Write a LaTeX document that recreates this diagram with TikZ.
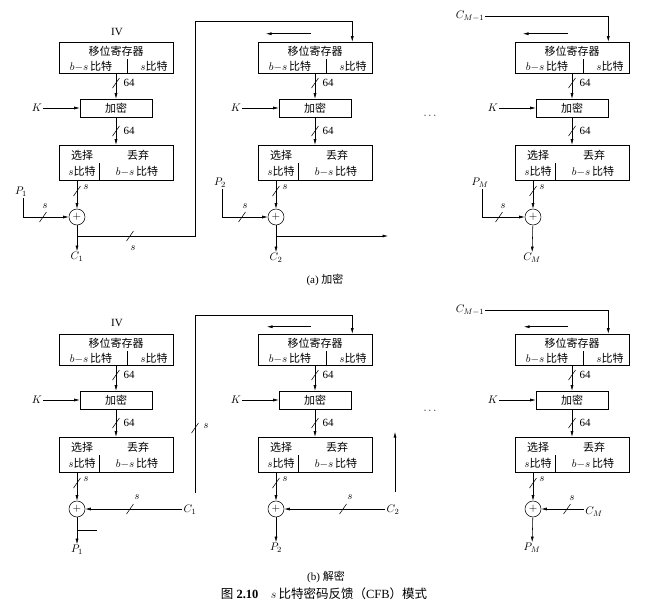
\documentclass[tikz,border=0pt]{standalone}
\usepackage{fontspec}
\setmainfont{Liberation Serif}
\newfontfamily\cjk{Noto Sans CJK SC}
\usetikzlibrary{arrows.meta,calc}
\newcommand\zh[1]{{\cjk #1}}
\newcommand\bitcut[1]{\draw (#1) ++(-3.5,5) -- ++(7,-10);}
\tikzset{
  box/.style={draw, inner sep=0pt},
  arr/.style={-{Latex[length=5.5pt,width=3pt]}},
  xorc/.style={draw, circle, minimum size=16pt, inner sep=0pt},
  lbl/.style={inner sep=1pt}
}
\begin{document}
\begin{tikzpicture}[x=1pt, y=-1pt, line width=0.55pt, font=\fontsize{11}{13}\selectfont]
\useasboundingbox (0,0) rectangle (660,611);
% the six stages
\foreach \n/\x/\y in {1/59/0, 2/258/0, 3/515/0, 4/59/292, 5/258/292, 6/515/292} {
  \node[box, minimum width=114pt, minimum height=31pt] (r\n) at (\x+57,57.5+\y) {};
  \node at (\x+57,51+\y) {\zh{移位寄存器}};
  \node at (\x+32,66+\y) {$b{-}s\,$\zh{比特}};
  \node at (\x+95,66+\y) {$s$\zh{比特}};
  \draw (\x+68,59+\y) -- (\x+68,73+\y);
  \node[box, minimum width=72pt, minimum height=18pt] (e\n) at (\x+57,108+\y) {\zh{加密}};
  \node[box, minimum width=114pt, minimum height=35pt] (s\n) at (\x+57,162.5+\y) {};
  \node at (\x+23,155+\y) {\zh{选择}};
  \node at (\x+79,155+\y) {\zh{丢弃}};
  \node at (\x+23,171+\y) {$s$\zh{比特}};
  \node at (\x+78,171+\y) {$b{-}s\,$\zh{比特}};
  \draw (\x+40,163+\y) -- (\x+40,180+\y);
  \node[xorc] (x\n) at (\x+18,217+\y) {$+$};
  \node[lbl] (k\n) at (\x-22,108+\y) {$K$};
  \draw[arr] (k\n) -- (e\n);
  \draw[arr] (r\n) -- (e\n);
  \bitcut{\x+57,83+\y}
  \node[anchor=west] at (\x+61,83+\y) {64};
  \draw[arr] (e\n) -- (s\n);
  \bitcut{\x+57,131+\y}
  \node[anchor=west] at (\x+61,131+\y) {64};
  \draw[arr] (s\n.south -| x\n) -- (x\n);
  \bitcut{\x+18,191+\y}
  \node at (\x+27,187+\y) {$s$};
}

% (a) encryption
\node at (117,32) {IV};
\node[lbl] (p1) at (21,192) {$P_1$};
\node[lbl] (p2) at (220,183) {$P_2$};
\node[lbl] (p3) at (480,183) {$P_M$};
\foreach \n in {1,2,3} {
  \draw[arr] ([xshift=2pt]p\n.south) |- (x\n);
  \bitcut{$(x\n)+(-34,0)$}
}
\node at (45,206) {$s$};
\node at (245,206) {$s$};
\node at (503,206) {$s$};
\node[lbl] (c1) at (77,257) {$C_1$};
\node[lbl] (c2) at (276,258) {$C_2$};
\node[lbl] (c3) at (532,258) {$C_M$};
\draw[arr] (x1) -- (c1);
\draw[arr] (x2) -- (c2);
\draw[arr] (x3) -- (c3);
\coordinate (f1) at (77,236);
\draw[arr] (f1) -| (195,21) -| ([xshift=-20pt]r2.north east);
\bitcut{130,236}
\node at (133,248) {$s$};
\coordinate (f2) at (276,236);
\draw[arr] (f2) -- ++(112,0);
\node[lbl] (cm1) at (470,16) {$C_{M-1}$};
\draw[arr] (cm1) -| ([xshift=-21pt]r3.north east);
\draw[arr] ([xshift=-4pt,yshift=8pt]r2.north) -- ++(-45,0);
\draw[arr] ([xshift=-4pt,yshift=8pt]r3.north) -- ++(-45,0);
\node at (430,116) {$\cdots$};
\node at (325,280) {(a) \zh{加密}};

% (b) decryption
\node at (117,323) {IV};
\node[lbl] (d1) at (190,510) {$C_1$};
\node[lbl] (d2) at (393,510) {$C_2$};
\node[lbl] (d3) at (594,512) {$C_M$};
\draw[arr] (d1.west |- x4) -- (x4);
\draw[arr] (d2.west |- x5) -- (x5);
\draw[arr] (d3.west |- x6) -- (x6);
\bitcut{130,509}
\node at (137,497) {$s$};
\bitcut{343,509}
\node at (350,497) {$s$};
\bitcut{567,509}
\node at (572,498) {$s$};
\coordinate (v1) at (195,493);
\draw[arr] (v1) -- (195,315) -| ([xshift=-20pt]r5.north east);
\bitcut{195,428}
\node at (206,426) {$s$};
\coordinate (u2) at (395,492);
\draw[arr] (u2) -- ++(0,-60);
\node[lbl] (dm1) at (470,310) {$C_{M-1}$};
\draw[arr] (dm1) -| ([xshift=-21pt]r6.north east);
\draw[arr] ([xshift=-4pt,yshift=7pt]r5.north) -- ++(-44,0);
\draw[arr] ([xshift=-4pt,yshift=7pt]r6.north) -- ++(-44,0);
\node[lbl] (q1) at (77,550) {$P_1$};
\node[lbl] (q2) at (276,548) {$P_2$};
\node[lbl] (q3) at (532,548) {$P_M$};
\draw[arr] (x4) -- (q1);
\draw[arr] (x5) -- (q2);
\draw[arr] (x6) -- (q3);
\draw (77,530) -- (97,530);
\node at (430,411) {$\cdots$};
\node at (326,577) {(b) \zh{解密}};

\node[font=\fontsize{12.5}{15}\selectfont] at (324,594) {\zh{图}\ \textbf{2.10}\quad $s$\,\zh{比特密码反馈（}CFB\zh{）模式}};
\end{tikzpicture}
\end{document}
